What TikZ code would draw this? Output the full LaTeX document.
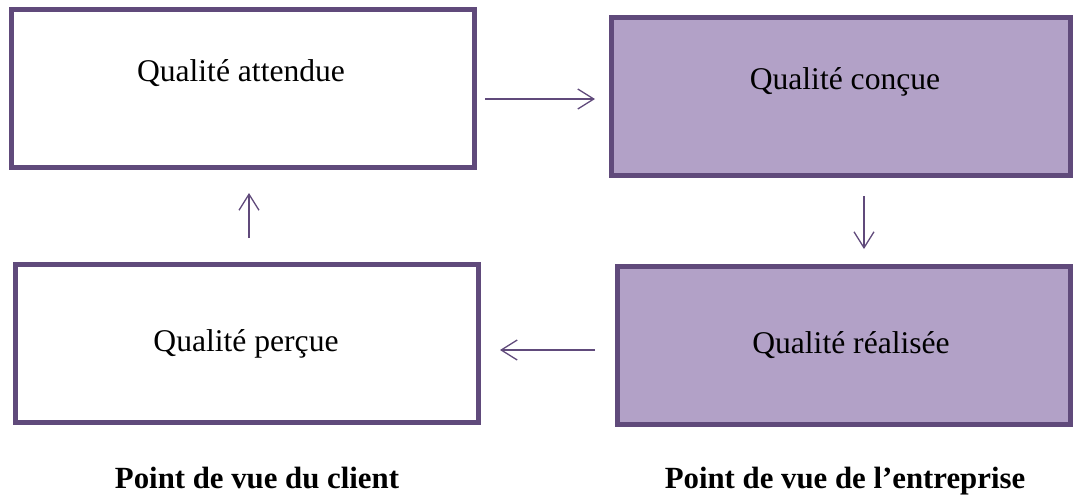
\documentclass[tikz,border=0pt]{standalone}
\usepackage{fontspec}
\setmainfont{Liberation Serif}
\usetikzlibrary{arrows.meta}
\definecolor{violetfonce}{HTML}{604A7B}
\definecolor{violetclair}{HTML}{B2A1C7}

\begin{document}
\begin{tikzpicture}[x=0.5pt, y=-0.5pt,
	boite/.style={draw=violetfonce, line width=2.5pt, rectangle, minimum height=79pt, inner sep=0pt},
	boiteent/.style={boite, fill=violetclair},
	texte/.style={anchor=base, inner sep=0pt, font=\fontsize{15.8}{19}\selectfont},
	titre/.style={anchor=base, inner sep=0pt, font=\fontsize{15.4}{19}\selectfont\bfseries},
	fleche/.style={draw=violetfonce, line width=0.65pt, -{Straight Barb[length=8pt, width=10pt]}}]
	\useasboundingbox (0,0) rectangle (1073,495);
	% Point de vue du client
	\node[boite, minimum width=231.5pt] (attendue) at (243,88.5) {};
	\node[boite, minimum width=231.5pt] (percue) at (247,343.5) {};
	\node[texte] (tattendue) at (241,81) {Qualité attendue};
	\node[texte] (tpercue) at (246,351) {Qualité perçue};
	% Point de vue de l'entreprise
	\node[boiteent, minimum width=229.5pt] (concue) at (841,96.5) {};
	\node[boiteent, minimum width=226.5pt] (realisee) at (844,345.5) {};
	\node[texte] (tconcue) at (845,89) {Qualité conçue};
	\node[texte] (trealisee) at (851,353) {Qualité réalisée};
	% Fleches
	\draw[fleche] ([xshift=4pt, yshift=-5.25pt]attendue.east) -- ([xshift=-7pt, yshift=-1.25pt]concue.west);
	\draw[fleche] ([xshift=11.5pt, yshift=-9pt]concue.south) -- ([xshift=10pt, yshift=7.5pt]realisee.north);
	\draw[fleche] ([xshift=-10pt, yshift=-2.25pt]realisee.west) -- ([xshift=9.5pt, yshift=-3.25pt]percue.east);
	\draw[fleche] ([xshift=1pt, yshift=12pt]percue.north) -- ([xshift=3pt, yshift=-11.5pt]attendue.south);
	% Titres
	\node[titre] (client) at (257,488) {Point de vue du client};
	\node[titre] (entreprise) at (845,488) {Point de vue de l’entreprise};
\end{tikzpicture}
\end{document}
